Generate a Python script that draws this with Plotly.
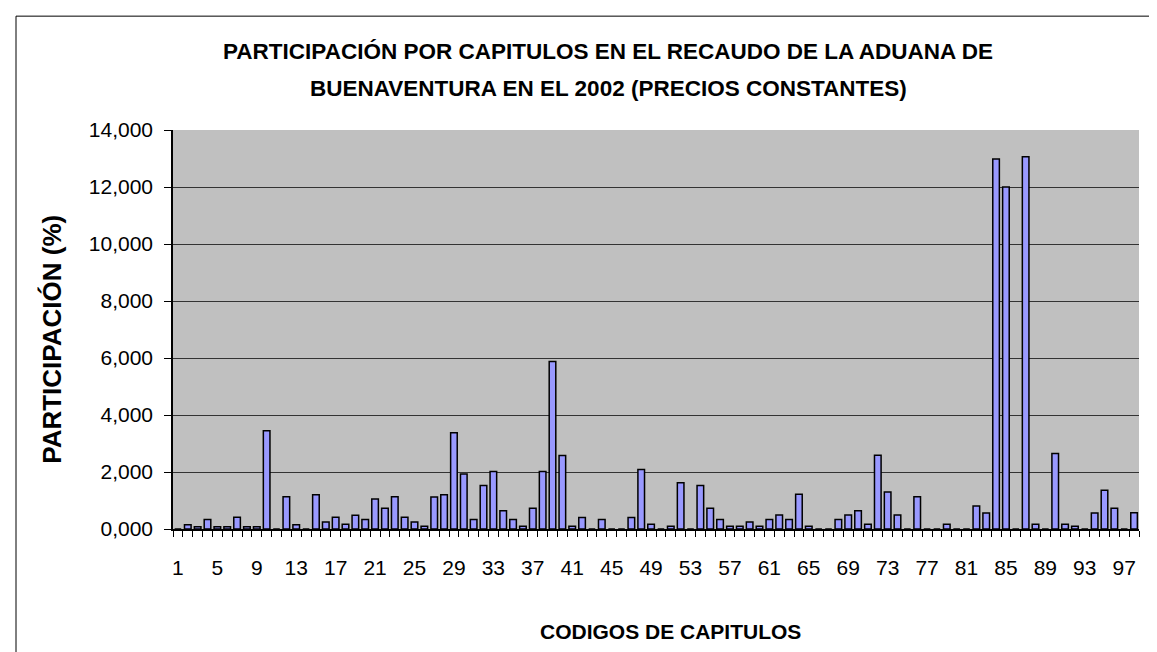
import plotly.graph_objects as go

# Chapter codes (categories) and participation values (%)
capitulos = list(range(1, 99))
participacion = [
    0.000, 0.150, 0.080, 0.330, 0.080, 0.080, 0.410, 0.080, 0.080, 3.450,   # 1-10
    0.000, 1.130, 0.150, 0.000, 1.200, 0.245, 0.410, 0.165, 0.480, 0.330,   # 11-20
    1.050, 0.725, 1.130, 0.410, 0.245, 0.095, 1.120, 1.200, 3.380, 1.930,   # 21-30
    0.330, 1.530, 2.020, 0.643, 0.330, 0.095, 0.725, 2.020, 5.880, 2.580,   # 31-40
    0.095, 0.400, 0.000, 0.330, 0.000, 0.000, 0.400, 2.090, 0.165, 0.000,   # 41-50
    0.095, 1.620, 0.000, 1.530, 0.725, 0.330, 0.095, 0.095, 0.245, 0.095,   # 51-60
    0.330, 0.490, 0.330, 1.217, 0.095, 0.000, 0.000, 0.330, 0.490, 0.643,   # 61-70
    0.165, 2.586, 1.300, 0.490, 0.000, 1.135, 0.000, 0.000, 0.165, 0.000,   # 71-80
    0.000, 0.807, 0.562, 12.980, 12.000, 0.000, 13.060, 0.165, 0.000, 2.650,  # 81-90
    0.165, 0.095, 0.000, 0.562, 1.360, 0.725, 0.000, 0.570,                 # 91-98
]
tick_labels = [str(c) for c in capitulos if (c - 1) % 4 == 0]
tick_positions = [c for c in capitulos if (c - 1) % 4 == 0]

title_line1 = "PARTICIPACIÓN POR CAPITULOS EN EL RECAUDO DE LA ADUANA DE"
title_line2 = "BUENAVENTURA EN EL 2002 (PRECIOS CONSTANTES)"
y_title = "PARTICIPACIÓN (%)"
x_title = "CODIGOS DE CAPITULOS"

FONT = "Liberation Sans, Arial, sans-serif"

# plot-area geometry (pixels) used to place free text in paper coordinates
L, R, T, B = 165, 26, 122, 130.5
W, H = 1157, 652
PW, PH = W - L - R, H - T - B


def px(xp):
    return (xp - L) / PW


def py(yp):
    return (H - B - yp) / PH


fig = go.Figure()
fig.add_trace(go.Bar(
    x=capitulos, y=participacion,
    marker=dict(color="#9999FF", line=dict(color="black", width=1.5)),
    hoverinfo="x+y",
))

boundaries = [c - 0.5 for c in capitulos] + [capitulos[-1] + 0.5]

fig.update_layout(
    width=W, height=H,
    margin=dict(l=L, r=R, t=T, b=B),
    paper_bgcolor="white",
    plot_bgcolor="#C0C0C0",
    separators=",.",
    bargap=0.33,
    showlegend=False,
    font=dict(family=FONT, color="black"),
    xaxis=dict(
        range=[0.5, 98.5],
        tickmode="array", tickvals=tick_positions, ticktext=tick_labels,
        ticks="outside", ticklen=6, tickcolor="rgba(0,0,0,0)", ticklabelstandoff=13,
        showgrid=False, zeroline=False,
        showline=True, linecolor="black", linewidth=1.5,
        tickfont=dict(size=21, family=FONT),
        minor=dict(tickmode="array", tickvals=boundaries, ticks="outside",
                   ticklen=6, tickcolor="black", tickwidth=1, showgrid=False),
    ),
    yaxis=dict(
        range=[0, 14], dtick=2, tickformat=".3f",
        showgrid=True, gridcolor="#333333", gridwidth=1,
        zeroline=False,
        showline=True, linecolor="black", linewidth=1.5,
        ticks="outside", ticklen=7, tickcolor="black", ticklabelstandoff=7,
        tickfont=dict(size=21, family=FONT),
    ),
    annotations=[
        dict(text="<b>" + title_line1 + "</b>", xref="paper", yref="paper",
             x=px(600), y=py(43), xanchor="center", yanchor="middle",
             showarrow=False, font=dict(size=22.5, family=FONT)),
        dict(text="<b>" + title_line2 + "</b>", xref="paper", yref="paper",
             x=px(600), y=py(80), xanchor="center", yanchor="middle",
             showarrow=False, font=dict(size=22.5, family=FONT)),
        dict(text="<b>" + x_title + "</b>", xref="paper", yref="paper",
             x=px(662), y=py(624), xanchor="center", yanchor="middle",
             showarrow=False, font=dict(size=21, family=FONT)),
        dict(text="<b>" + y_title + "</b>", xref="paper", yref="paper",
             x=px(44), y=py(332), xanchor="center", yanchor="middle", textangle=-90,
             showarrow=False, font=dict(size=26, family=FONT)),
    ],
    shapes=[
        dict(type="rect", xref="paper", yref="paper",
             x0=px(8), x1=px(1210),
             y0=py(700), y1=py(8),
             line=dict(color="black", width=1), fillcolor="rgba(0,0,0,0)", layer="below"),
    ],
)

fig.write_html("out.html")
